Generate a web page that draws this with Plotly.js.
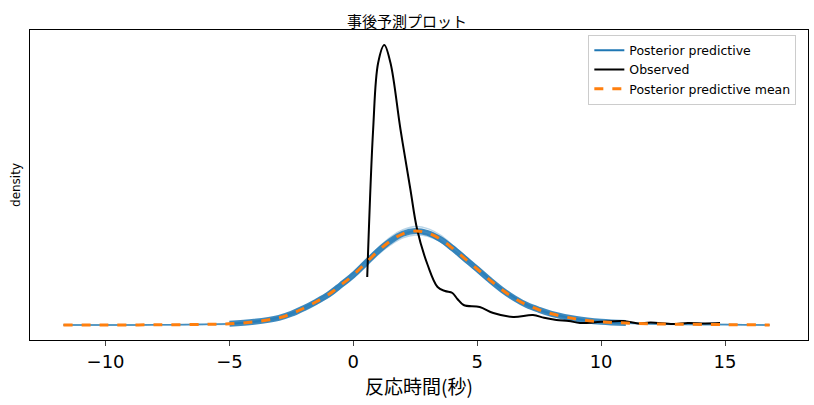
<!DOCTYPE html>
<html>
<head>
<meta charset="utf-8">
<script src="https://cdn.plot.ly/plotly-3.0.1.min.js"></script>
<style>body{margin:0}#plot{width:814px;height:405px}</style>
</head>
<body>
<div id="plot"></div>
<script>
const ppX = [-11.7, -10, -8, -6, -5, -4, -3, -2.5, -2, -1.5, -1, -0.5, 0, 0.5, 1, 1.5, 2, 2.5, 3, 3.5, 4, 4.5, 5, 5.5, 6, 6.5, 7, 7.5, 8, 9, 10, 11, 12, 13, 15, 16.8];
const ppMean = [0, 0, 0.0005, 0.0015, 0.003, 0.008, 0.018, 0.028, 0.042, 0.058, 0.076, 0.1, 0.125, 0.155, 0.185, 0.21, 0.228, 0.235, 0.23, 0.215, 0.192, 0.166, 0.14, 0.113, 0.088, 0.067, 0.05, 0.038, 0.028, 0.015, 0.008, 0.005, 0.003, 0.002, 0.001, 0];
const ppSamples = [
  [0, 0, 0.0005, 0.002, 0.004, 0.01, 0.02, 0.031, 0.046, 0.063, 0.082, 0.107, 0.133, 0.163, 0.193, 0.22, 0.238, 0.246, 0.241, 0.225, 0.2, 0.172, 0.144, 0.115, 0.089, 0.067, 0.049, 0.036, 0.026, 0.013, 0.007, 0.004, 0.002, 0.001, 0.0005, 0],
  [0, 0, 0.0005, 0.001, 0.002, 0.006, 0.015, 0.025, 0.038, 0.053, 0.07, 0.093, 0.117, 0.146, 0.176, 0.2, 0.218, 0.225, 0.222, 0.209, 0.188, 0.164, 0.14, 0.115, 0.091, 0.07, 0.053, 0.041, 0.031, 0.017, 0.009, 0.005, 0.003, 0.002, 0.001, 0],
  [0, 0, 0.0005, 0.0015, 0.003, 0.009, 0.02, 0.03, 0.044, 0.061, 0.08, 0.104, 0.13, 0.16, 0.19, 0.214, 0.23, 0.234, 0.226, 0.209, 0.185, 0.159, 0.133, 0.107, 0.083, 0.063, 0.047, 0.036, 0.027, 0.015, 0.008, 0.005, 0.003, 0.002, 0.001, 0],
  [0, 0, 0.0005, 0.0015, 0.003, 0.007, 0.016, 0.026, 0.039, 0.055, 0.073, 0.096, 0.12, 0.15, 0.18, 0.206, 0.225, 0.236, 0.234, 0.221, 0.199, 0.173, 0.146, 0.118, 0.092, 0.07, 0.052, 0.039, 0.029, 0.016, 0.008, 0.005, 0.003, 0.002, 0.001, 0],
  [0, 0, 0.0005, 0.002, 0.0035, 0.009, 0.019, 0.029, 0.043, 0.059, 0.078, 0.101, 0.127, 0.157, 0.186, 0.21, 0.226, 0.231, 0.227, 0.213, 0.191, 0.166, 0.139, 0.113, 0.089, 0.068, 0.051, 0.038, 0.028, 0.015, 0.008, 0.005, 0.003, 0.002, 0.001, 0]
];
const obsX = [0.56, 0.8, 1.0, 1.25, 1.5, 1.9, 2.3, 2.58, 3.0, 3.4, 3.7, 4.0, 4.2, 4.45, 5.1, 5.65, 6.45, 7.25, 7.7, 8.2, 8.7, 9.15, 10.0, 10.9, 11.5, 12.0, 12.9, 13.5, 14.2, 14.8];
const obsY = [0.12, 0.49, 0.655, 0.70, 0.655, 0.49, 0.34, 0.2375, 0.15, 0.095, 0.085, 0.08, 0.065, 0.05, 0.045, 0.03, 0.02, 0.025, 0.018, 0.0125, 0.01, 0.005, 0.008, 0.01, 0.004, 0.006, 0.0025, 0.005, 0.004, 0.005];

const traces = [];
ppSamples.forEach(function (s) {
  traces.push({x: ppX, y: s, mode: "lines", line: {color: "rgba(31,119,180,0.3)", width: 1.5, shape: "spline"}, showlegend: false, hoverinfo: "skip"});
});
traces.push({x: ppX.slice(4, 32), y: ppMean.slice(4, 32), mode: "lines", line: {color: "rgba(31,119,180,0.85)", width: 6, shape: "spline"}, showlegend: false});
traces.push({x: [null], y: [null], mode: "lines", name: "Posterior predictive", line: {color: "#1f77b4", width: 2}});
traces.push({x: obsX, y: obsY, mode: "lines", name: "Observed", line: {color: "black", width: 2, shape: "spline"}});
traces.push({x: ppX, y: ppMean, mode: "lines", name: "Posterior predictive mean", line: {color: "#ff7f0e", width: 3, dash: "dash", shape: "spline"}});

const layout = {
  width: 814, height: 405,
  margin: {l: 30, r: 6, t: 30, b: 65},
  font: {family: "DejaVu Sans, Noto Sans CJK JP", color: "black"},
  title: {text: "事後予測プロット", font: {size: 15, family: "Noto Sans CJK JP"}, x: 0.5, y: 0.96},
  xaxis: {range: [-13.05, 18.35], tickvals: [-10, -5, 0, 5, 10, 15], ticktext: ["−10", "−5", "0", "5", "10", "15"], tickfont: {size: 18}, ticks: "outside", ticklen: 5, showgrid: false, zeroline: false, showline: true, mirror: true, linecolor: "black",
    title: {text: "反応時間(秒)", font: {size: 19, family: "Noto Sans CJK JP"}, standoff: 5}},
  yaxis: {range: [-0.0375, 0.7375], showticklabels: false, ticks: "", showgrid: false, zeroline: false, showline: true, mirror: true, linecolor: "black",
    title: {text: "density", font: {size: 12}, standoff: 5}},
  legend: {x: 0.985, y: 0.985, xanchor: "right", yanchor: "top", bordercolor: "#ccc", borderwidth: 1, font: {size: 12.5}},
  plot_bgcolor: "white", paper_bgcolor: "white"
};
Plotly.newPlot("plot", traces, layout, {staticPlot: true});
</script>
</body>
</html>
